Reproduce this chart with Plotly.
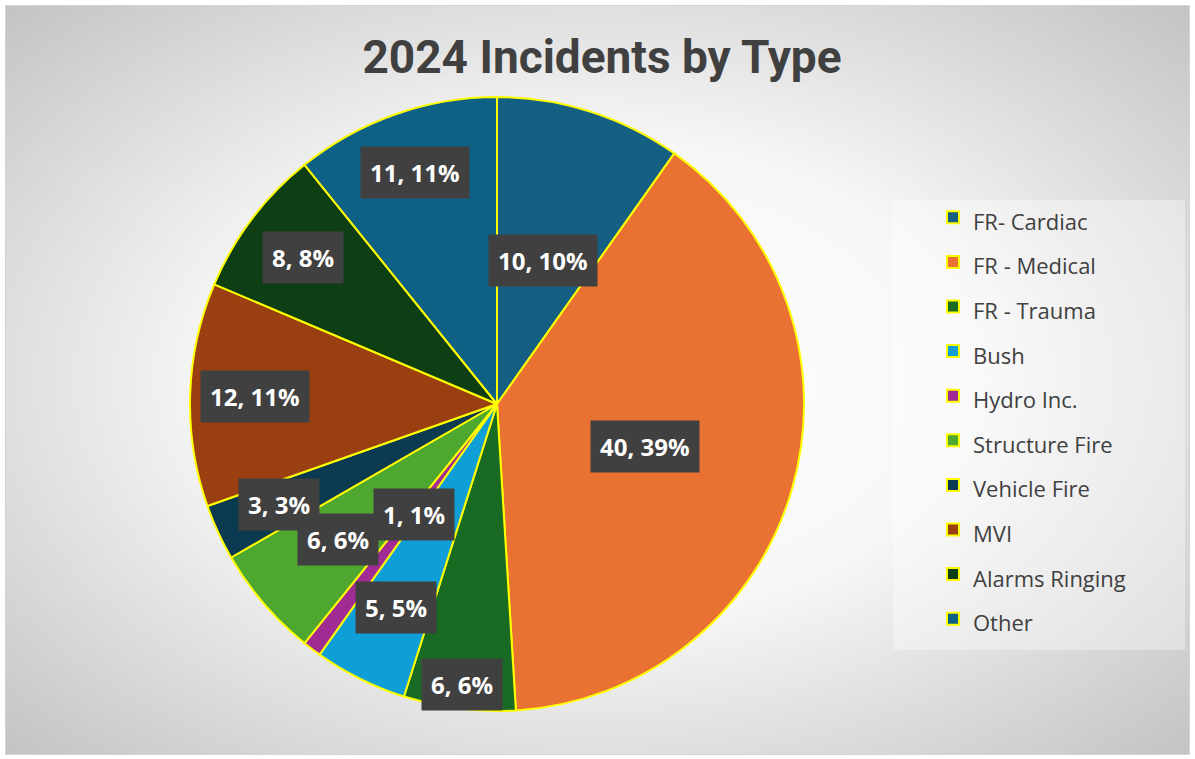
import math
import base64
import plotly.graph_objects as go

# ---- data ----
categories = ["FR- Cardiac", "FR - Medical", "FR - Trauma", "Bush", "Hydro Inc.",
              "Structure Fire", "Vehicle Fire", "MVI", "Alarms Ringing", "Other"]
counts = [10, 40, 6, 5, 1, 6, 3, 12, 8, 11]
pct_labels = ["10%", "39%", "6%", "5%", "1%", "6%", "3%", "11%", "8%", "11%"]

colors = ["#156082", "#E97132", "#196B24", "#0F9ED5", "#A02B93",
          "#4EA72E", "#0C3A50", "#9A3F0F", "#0E3F14", "#0F6085"]
# radial placement (fraction of radius) of each data label, like Excel's best fit
label_radius = [0.49, 0.50, 0.92, 0.74, 0.45, 0.68, 0.78, 0.79, 0.79, 0.80]

W, H = 1195, 759
cx, cy, R = 497, 404, 307  # pie centre / radius in pixels


def px_to_paper(x, y):
    return x / W, 1 - y / H


# background: radial gradient panel with light border
svg = f"""<svg xmlns='http://www.w3.org/2000/svg' width='1185' height='750' viewBox='0 0 1185 750'>
<defs><radialGradient id='g' cx='50%' cy='50%' r='70%'>
<stop offset='0%' stop-color='#ffffff'/><stop offset='45%' stop-color='#f7f7f7'/>
<stop offset='100%' stop-color='#c4c4c4'/></radialGradient></defs>
<rect x='0.5' y='0.5' width='1184' height='749' fill='url(#g)' stroke='#d4d4d4' stroke-width='1'/>
</svg>"""
bg_uri = "data:image/svg+xml;base64," + base64.b64encode(svg.encode()).decode()

x0, y1 = px_to_paper(cx - R, cy - R)
x1, y0 = px_to_paper(cx + R, cy + R)

fig = go.Figure(go.Pie(
    labels=[f"<span style='font-size:22px'>{c}</span>" for c in categories],
    values=counts,
    sort=False,
    direction="clockwise",
    rotation=0,
    marker=dict(colors=colors, line=dict(color="#FFFF00", width=2)),
    textinfo="none",
    hovertext=categories,
    hoverinfo="text+value+percent",
    domain=dict(x=[x0, x1], y=[y0, y1]),
))

# data labels computed from cumulative values
total = sum(counts)
annotations = []
cum = 0
for i, v in enumerate(counts):
    mid = (cum + v / 2) / total * 2 * math.pi
    cum += v
    r = label_radius[i] * R
    lx = cx + r * math.sin(mid)
    ly = cy - r * math.cos(mid)
    ax, ay = px_to_paper(lx, ly)
    annotations.append(dict(
        x=ax, y=ay, xref="paper", yref="paper", showarrow=False,
        xanchor="center", yanchor="middle",
        text=f"<b>{v}, {pct_labels[i]}</b>", borderpad=9,
        font=dict(family="Open Sans", size=24, color="#FFFFFF"),
        bgcolor="#404040",
    ))

lbx0, lby0 = px_to_paper(893, 200)
lbx1, lby1 = px_to_paper(1185, 650)
legx, legy = px_to_paper(933, 190)

fig.update_layout(
    width=W, height=H,
    margin=dict(l=0, r=0, t=0, b=0),
    paper_bgcolor="#FFFFFF",
    title=dict(text="<b>2024 Incidents by Type</b>", x=602 / W, xanchor="center",
               y=1 - 57 / H, yanchor="middle",
               font=dict(family="Roboto", size=46, color="#404040")),
    images=[dict(source=bg_uri, xref="paper", yref="paper", x=5 / W, y=1 - 5 / H,
                 sizex=1185 / W, sizey=750 / H, sizing="stretch", layer="below",
                 xanchor="left", yanchor="top")],
    shapes=[dict(type="rect", xref="paper", yref="paper", x0=lbx0, x1=lbx1,
                 y0=lby1, y1=lby0, fillcolor="rgba(255,255,255,0.35)",
                 line=dict(width=0), layer="below")],
    legend=dict(x=legx, y=legy, xanchor="left", yanchor="top",
                font=dict(family="Open Sans", size=32, color="#404040"),
                bgcolor="rgba(0,0,0,0)", borderwidth=0),
    annotations=annotations,
)

fig.write_html("out.html", config={"displayModeBar": False},
               post_script="document.body.style.margin='0';document.body.style.overflow='hidden';")
